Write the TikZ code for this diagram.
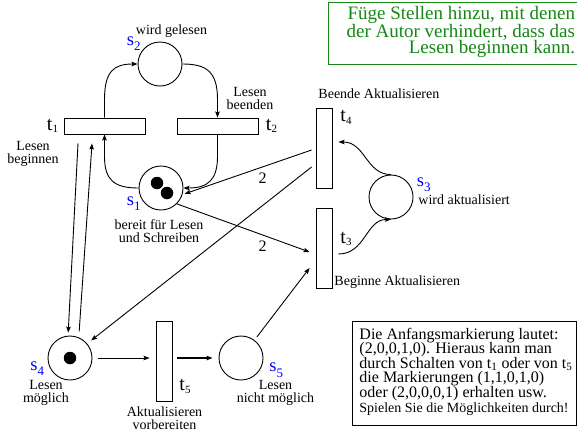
\documentclass[tikz,border=0pt]{standalone}
\usepackage{fontspec}
\setmainfont{Liberation Serif}
\usetikzlibrary{arrows.meta}
\definecolor{grn}{RGB}{20,135,20}
\newcommand{\tidx}[1]{t\raisebox{-2.5pt}{\fontsize{11}{11}\selectfont #1}}
\newcommand{\sidx}[1]{s\raisebox{-5.5pt}{\fontsize{13}{13}\selectfont #1}}
\begin{document}
\begin{tikzpicture}[x=1pt,y=-1pt,line width=0.9pt,
  place/.style={circle,draw,minimum size=44pt,inner sep=0pt},
  trh/.style={draw,minimum width=81pt,minimum height=16pt,inner sep=0pt},
  trv/.style={draw,minimum width=16pt,minimum height=80pt,inner sep=0pt},
  tok/.style={circle,fill,minimum size=12.5pt,inner sep=0pt},
  arc/.style={-{Stealth[length=6pt,width=4.5pt,inset=1pt]}},
  lbl/.style={font=\fontsize{14}{13}\selectfont,align=center,inner sep=0pt},
  tl/.style={font=\fontsize{20}{20}\selectfont,inner sep=0pt,anchor=base west},
  sl/.style={font=\fontsize{18.5}{18}\selectfont,text=blue,inner sep=0pt,anchor=base west},
  wt/.style={font=\fontsize{16}{16}\selectfont,inner sep=0pt,anchor=base}]
\useasboundingbox (0,0) rectangle (577,432);

% places
\node[place] (s2) at (160,64) {};
\node[place] (s1) at (161,188) {};
\node[tok] (k1) at (157,183) {};
\node[tok] (k2) at (167,193) {};
\node[place] (s3) at (391,197) {};
\node[place] (s4) at (70,358) {};
\node[tok] (k3) at (70,358) {};
\node[place] (s5) at (241,358) {};

% transitions
\node[trh] (t1) at (104.5,126) {};
\node[trh] (t2) at (217.5,126) {};
\node[trv] (t4) at (324,148) {};
\node[trv] (t3) at (324,248) {};
\node[trv] (t5) at (164,361) {};

% labels of places and transitions
\node[tl] (lt1) at (46.5,130) {\tidx{1}};
\node[tl] (lt2) at (265.5,130) {\tidx{2}};
\node[tl] (lt4) at (340,121.5) {\tidx{4}};
\node[tl] (lt3) at (340,243) {\tidx{3}};
\node[tl] (lt5) at (179,390.5) {\tidx{5}};
\node[sl] (ls2) at (126.5,45) {\sidx{2}};
\node[sl] (ls1) at (126.5,205) {\sidx{1}};
\node[sl] (ls3) at (416.5,186) {\sidx{3}};
\node[sl] (ls4) at (30,370) {\sidx{4}};
\node[sl] (ls5) at (269,371.5) {\sidx{5}};

% descriptive texts
\node[lbl,anchor=base] (d2) at (171.5,34.5) {wird gelesen};
\node[lbl] (dt2) at (250,98.5) {Lesen\\beenden};
\node[lbl] (dt1) at (33,153.5) {Lesen\\beginnen};
\node[lbl] (d1) at (159,231.5) {bereit für Lesen\\und Schreiben};
\node[lbl,anchor=base west] (dt4) at (318,98) {Beende Aktualisieren};
\node[lbl,anchor=base west] (d3) at (418,204) {wird aktualisiert};
\node[lbl,anchor=base west] (dt3) at (334,285) {Beginne Aktualisieren};
\node[lbl] (d4) at (46,392.5) {Lesen\\möglich};
\node[lbl] (dt5) at (164.5,418.3) {Aktualisieren\\vorbereiten};
\node[lbl] (d5) at (275.5,393) {Lesen\\nicht möglich};

% arcs of the upper cycle
\draw[arc] (t1.north) -- ([yshift=18pt]t1.north) .. controls +(0,-28) and +(-24,0) .. (s2.west);
\draw[arc] (s2.east) .. controls +(24,0) and +(0,-28) .. ([yshift=18pt]t2.north) -- (t2.north);
\draw[arc] (t2.south) -- ([yshift=-22pt]t2.south) .. controls +(0,24) and +(24,0) .. (s1.east);
\draw[arc] (s1.west) .. controls +(-24,0) and +(0,24) .. ([yshift=-22pt]t1.south) -- (t1.south);

% arcs around s3
\draw[arc] (s3.north) .. controls +(-25,0) and +(27,0) .. ([xshift=6pt,yshift=6pt]t4.east);
\draw[arc] ([xshift=6pt,yshift=-6pt]t3.east) .. controls +(27,0) and +(-25,0) .. (s3.south);

% straight arcs
\draw[arc] ([xshift=-4pt,yshift=-2pt]t4.west) -- ([xshift=2pt]s1.-15);
\node[wt] (w1) at (262.5,183.5) {2};
\draw[arc] (s1.-45) -- ([xshift=-6pt,yshift=-4pt]t3.west);
\node[wt] (w2) at (262.5,251.7) {2};
\draw[arc,shorten >=5pt] ([xshift=-4pt,yshift=-19pt]t4.west) -- (s4.40);
\draw[arc,shorten <=4pt] (s5.53) -- ([xshift=-6pt,yshift=-20pt]t3.west);
\draw[arc,shorten >=3pt] ([xshift=-26.5pt,yshift=-9pt]t1.south) -- (s4.95);
\draw[arc,shorten <=6pt] (s4.67) -- ([xshift=-12.5pt,yshift=-9pt]t1.south);
\draw[arc,shorten <=6pt,shorten >=6pt] (s4.east) -- (t5.west |- s4.east);
\draw[arc,line width=1.6pt,shorten <=5pt,shorten >=6pt] (t5.east |- s5.west) -- (s5.west);

% green note
\node[draw=grn,line width=1.1pt,minimum width=252pt,minimum height=62pt,anchor=north west,inner sep=0pt] (gbox) at (328,1.5) {};
\node[text=grn,font=\fontsize{19}{16.2}\selectfont,align=right,inner sep=0pt,anchor=east] (gtxt) at (575.5,31.8)
  {Füge Stellen hinzu, mit denen\\der Autor verhindert, dass das\\Lesen beginnen kann.};

% explanation box
\node[draw,line width=1pt,minimum width=224pt,minimum height=104pt,anchor=north west,inner sep=0pt] (ebox) at (352,321) {};
\node[font=\fontsize{16}{14.6}\selectfont,align=left,inner sep=0pt,anchor=north west] (etxt) at (359,327.4)
  {Die Anfangsmarkierung lautet:\\(2,0,0,1,0). Hieraus kann man\\durch Schalten von t\textsubscript{1} oder von t\textsubscript{5}\\die Markierungen (1,1,0,1,0)\\oder (2,0,0,0,1) erhalten usw.\\{\fontsize{14}{14}\selectfont Spielen Sie die Möglichkeiten durch!}};
\end{tikzpicture}
\end{document}
